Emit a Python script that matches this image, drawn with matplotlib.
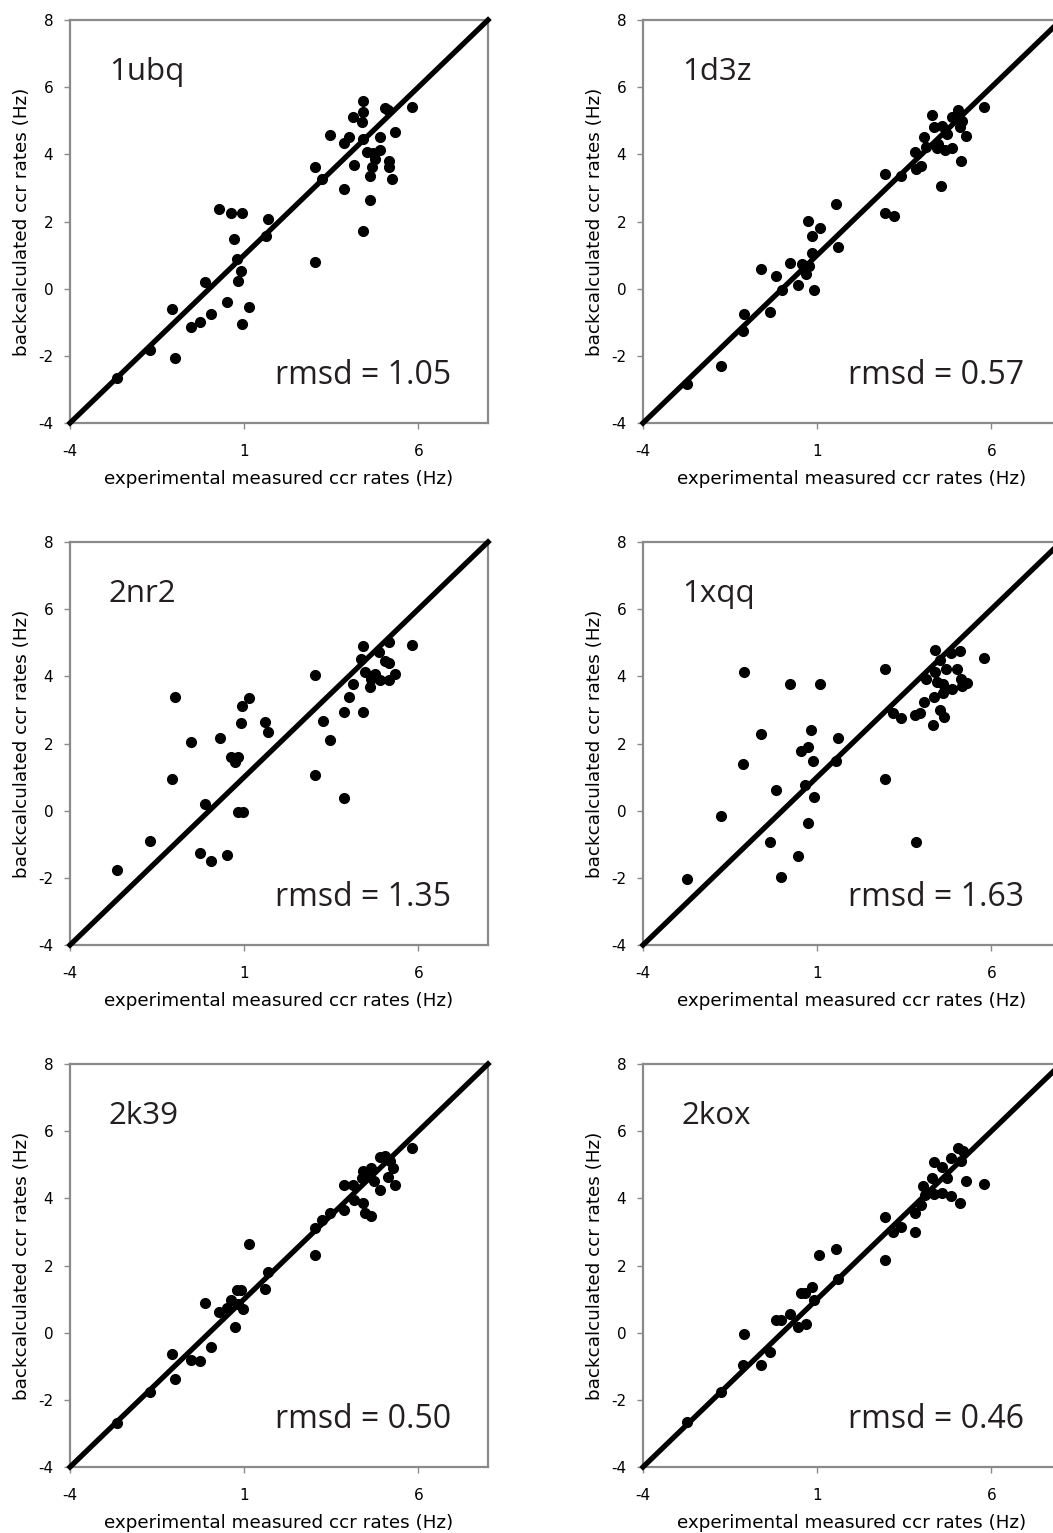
import matplotlib
matplotlib.use("Agg")
import matplotlib.pyplot as plt

plt.rcParams["axes.unicode_minus"] = False

# x = experimental, y = backcalculated (Hz)
ubq_exp = [-2.65, -1.7, -1.0, -1.07, -0.54, -0.27, -0.12, 0.04, 0.29, 0.51, 0.63, 0.72, 0.79, 0.90,
           0.81, 0.95, 0.94, 1.14, 1.62, 1.67, 3.02, 3.02, 3.23, 3.47, 3.88, 3.88, 4.02, 4.14, 4.13,
           4.37, 4.40, 4.42, 4.41, 4.42, 4.52, 4.60, 4.61, 4.67, 4.75, 4.70, 4.91, 4.91, 5.04, 5.13,
           5.16, 5.16, 5.23, 5.32, 5.83]
ubq_calc = [-2.65, -1.82, -2.05, -0.6, -1.14, -0.98, 0.19, -0.74, 2.38, -0.41, 2.26, 1.49, 0.89, 0.53,
            0.22, 2.26, -1.06, -0.55, 1.56, 2.08, 0.79, 3.62, 3.26, 4.59, 2.96, 4.35, 4.52, 3.69, 5.11,
            4.96, 5.58, 5.27, 4.47, 1.72, 4.07, 2.65, 3.34, 3.62, 3.87, 4.04, 4.52, 4.12, 5.39, 5.31,
            3.80, 3.62, 3.28, 4.67, 5.41]

d3z_exp = [-2.74, -1.77, -1.14, -1.09, -0.60, -0.34, -0.18, -0.01, 0.22, 0.45, 0.57, 0.67, 0.76, 0.74,
           0.84, 0.86, 0.91, 1.07, 1.54, 1.61, 2.95, 2.96, 3.20, 3.42, 3.82, 3.84, 3.97, 4.06, 4.12,
           4.29, 4.34, 4.43, 4.56, 4.58, 4.66, 4.72, 4.86, 4.88, 5.03, 5.10, 5.15, 5.12, 5.28, 5.78, 4.47]
d3z_calc = [-2.83, -2.31, -1.27, -0.74, 0.60, -0.70, 0.38, -0.03, 0.76, 0.10, 0.72, 0.43, 0.67, 2.02,
            1.56, 1.06, -0.03, 1.82, 2.51, 1.24, 3.41, 2.25, 2.16, 3.36, 4.07, 3.55, 3.65, 4.52, 4.22,
            5.18, 4.82, 4.20, 3.05, 4.84, 4.14, 4.60, 4.20, 5.11, 5.31, 4.82, 5.00, 3.79, 4.56, 5.41, 4.32]

nr2_exp = [-2.65, -1.70, -1.07, -1.0, -0.52, -0.28, -0.12, 0.04, 0.30, 0.51, 0.62, 0.73, 0.81, 0.81,
           0.97, 0.90, 0.93, 1.13, 1.59, 1.67, 3.02, 3.02, 3.25, 3.46, 3.88, 3.88, 4.02, 4.13, 4.34,
           4.40, 4.41, 4.46, 4.60, 4.63, 4.75, 4.88, 4.91, 5.04, 5.15, 5.17, 5.17, 5.33, 5.83]
nr2_calc = [-1.78, -0.90, 0.94, 3.38, 2.05, -1.27, 0.20, -1.49, 2.17, -1.32, 1.60, 1.44, 1.60, -0.03,
            -0.03, 2.62, 3.13, 3.36, 2.64, 2.34, 1.05, 4.03, 2.66, 2.11, 2.93, 0.37, 3.37, 3.78, 4.52,
            2.93, 4.89, 4.13, 3.68, 3.93, 4.08, 4.72, 3.88, 4.46, 5.01, 4.40, 3.88, 4.06, 4.92]

xqq_exp = [-2.74, -1.77, -1.14, -1.09, -0.60, -0.34, -0.18, -0.04, 0.23, 0.45, 0.55, 0.66, 0.74, 0.74,
           0.83, 0.87, 0.90, 1.07, 1.53, 1.61, 2.95, 2.96, 3.19, 3.41, 3.81, 3.83, 3.94, 4.06, 4.12,
           4.33, 4.35, 4.37, 4.38, 4.45, 4.54, 4.54, 4.60, 4.64, 4.69, 4.62, 4.84, 4.86, 5.01, 5.09,
           5.12, 5.15, 5.30, 5.80]
xqq_calc = [-2.04, -0.15, 1.38, 4.14, 2.29, -0.92, 0.61, -1.99, 3.76, -1.35, 1.78, 0.76, 1.90, -0.38,
            2.40, 1.48, 0.41, 3.76, 1.49, 2.15, 0.93, 4.21, 2.92, 2.77, 2.84, -0.92, 2.92, 3.25, 3.93,
            2.54, 3.39, 4.77, 4.13, 3.83, 4.48, 2.99, 3.50, 2.79, 4.23, 3.78, 4.70, 3.63, 4.23, 4.74,
            3.93, 3.71, 3.81, 4.55]

k39_exp = [-2.65, -1.69, -1.07, -1.0, -0.54, -0.27, -0.12, 0.04, 0.28, 0.51, 0.63, 0.73, 0.79, 0.92,
           0.97, 0.81, 1.14, 1.60, 1.67, 3.02, 3.02, 3.23, 3.47, 3.88, 3.88, 4.12, 4.14, 4.40, 4.41,
           4.37, 4.48, 4.63, 4.50, 4.64, 4.72, 4.91, 4.91, 5.04, 5.13, 5.18, 5.27, 5.32, 5.83, 4.58]
k39_calc = [-2.70, -1.78, -0.64, -1.39, -0.81, -0.84, 0.89, -0.42, 0.62, 0.72, 0.96, 0.18, 1.26, 1.28,
            0.69, 0.84, 2.65, 1.30, 1.81, 2.32, 3.12, 3.35, 3.56, 3.64, 4.39, 4.39, 3.96, 3.87, 4.82,
            4.60, 3.55, 3.47, 4.67, 4.90, 4.53, 4.26, 5.23, 5.27, 4.65, 5.10, 4.90, 4.41, 5.51, 4.75]

kox_exp = [-2.74, -1.75, -1.14, -1.09, -0.60, -0.34, -0.18, -0.03, 0.22, 0.44, 0.68, 0.55, 0.66, 0.84,
           0.91, 1.06, 1.54, 1.61, 2.95, 2.96, 3.19, 3.42, 3.82, 3.82, 3.97, 4.05, 4.10, 4.31, 4.36,
           4.35, 4.57, 4.57, 4.72, 4.84, 4.83, 5.05, 5.10, 5.13, 5.20, 5.28, 5.80]
kox_calc = [-2.67, -1.76, -0.96, -0.03, -0.97, -0.57, 0.39, 0.39, 0.56, 0.18, 0.27, 1.17, 1.17, 1.37,
            0.96, 2.30, 2.50, 1.60, 2.17, 3.44, 3.00, 3.16, 2.99, 3.56, 3.81, 4.38, 4.11, 4.60, 5.07,
            4.13, 4.16, 4.92, 4.60, 4.06, 5.20, 5.51, 3.86, 5.10, 5.40, 4.52, 4.44]

names = ["1ubq", "1d3z", "2nr2", "1xqq", "2k39", "2kox"]
rmsd = ["1.05", "0.57", "1.35", "1.63", "0.50", "0.46"]
exp_sets = [ubq_exp, d3z_exp, nr2_exp, xqq_exp, k39_exp, kox_exp]
calc_sets = [ubq_calc, d3z_calc, nr2_calc, xqq_calc, k39_calc, kox_calc]

W, H = 1053, 1533
col_left = [70, 643]
row_top = [20, 542, 1064]
ax_w, ax_h = 418, 403
frame = "#8a8a8a"
ink = "#231f20"

fig = plt.figure(figsize=(W / 100, H / 100), dpi=100)

for i in range(6):
    r, c = i // 2, i % 2
    ax = fig.add_axes([col_left[c] / W, (H - row_top[r] - ax_h) / H, ax_w / W, ax_h / H])

    ax.plot([-4, 8], [-4, 8], color="black", lw=3.8, clip_on=False, zorder=3)
    ax.plot(exp_sets[i], calc_sets[i], "o", color="black", ms=7, zorder=4, clip_on=False)

    ax.set_xlim(-4, 8)
    ax.set_ylim(-4, 8)
    ax.set_xticks([-4, 1, 6])
    ax.set_yticks(range(-4, 9, 2))
    for s in ax.spines.values():
        s.set_color(frame)
        s.set_linewidth(1.6)
    ax.tick_params(axis="both", direction="out", length=4, width=1, color=frame, labelsize=11)
    ax.tick_params(axis="x", pad=11)
    ax.tick_params(axis="y", pad=8)

    ax.set_xlabel("experimental measured ccr rates (Hz)", fontsize=13.2)
    ax.xaxis.label.set_va("center")
    ax.xaxis.set_label_coords(0.5, -0.139)
    ax.set_ylabel("backcalculated ccr rates (Hz)", fontsize=13.2)
    ax.yaxis.label.set_va("center")
    ax.yaxis.set_label_coords(-0.115, 0.5)

    ax.text(0.093, 0.851, names[i], transform=ax.transAxes, fontsize=22.5,
            family="Open Sans", color=ink, va="baseline")
    ax.text(0.49, 0.097, "rmsd = " + rmsd[i], transform=ax.transAxes, fontsize=23,
            family="Open Sans", color=ink, va="baseline")

fig.savefig("out.png", dpi=100, facecolor="white")
